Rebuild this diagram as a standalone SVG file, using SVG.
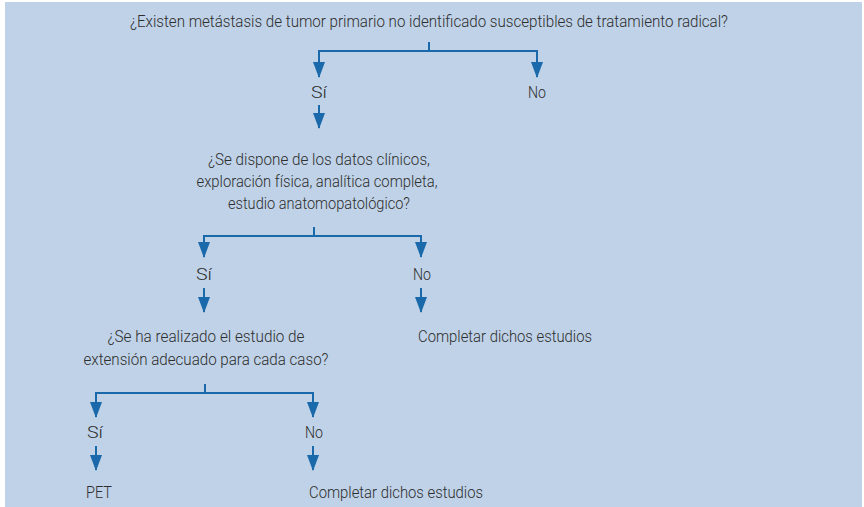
<svg xmlns="http://www.w3.org/2000/svg" width="864" height="507" viewBox="0 0 864 507">
<defs>
<style>
.t{font-family:Roboto,"Liberation Sans",sans-serif;font-size:17px;font-weight:300;fill:#2e2e2e;}
.c{text-anchor:middle;}
.ln{stroke:#1a69aa;stroke-width:2;fill:none;}
</style>
<marker id="ah" markerWidth="16" markerHeight="12" refX="15" refY="6" orient="auto" markerUnits="userSpaceOnUse" viewBox="0 0 16 12">
<path d="M0,0 L16,6 L0,12 Z" fill="#1a69aa"/>
</marker>
</defs>
<rect x="0" y="0" width="864" height="507" fill="#ffffff"/>
<rect x="5" y="2" width="857" height="505" fill="#bfd2e7"/>
<g id="connectors">
<path class="ln" d="M429,42 V51 M318,51 H538"/>
<path class="ln" d="M319,51 V77" marker-end="url(#ah)"/>
<path class="ln" d="M537,51 V77" marker-end="url(#ah)"/>
<path class="ln" d="M319,105 V128" marker-end="url(#ah)"/>
<path class="ln" d="M314,227 V236 M203,236 H422"/>
<path class="ln" d="M204,236 V257" marker-end="url(#ah)"/>
<path class="ln" d="M421,236 V257" marker-end="url(#ah)"/>
<path class="ln" d="M204,288 V312" marker-end="url(#ah)"/>
<path class="ln" d="M421,288 V312" marker-end="url(#ah)"/>
<path class="ln" d="M205,384 V393 M95,393 H314"/>
<path class="ln" d="M96,393 V417" marker-end="url(#ah)"/>
<path class="ln" d="M313,393 V417" marker-end="url(#ah)"/>
<path class="ln" d="M96,446 V470" marker-end="url(#ah)"/>
<path class="ln" d="M313,446 V470" marker-end="url(#ah)"/>
</g>
<g id="q1"><text class="t c" x="429" y="27" textLength="598" lengthAdjust="spacingAndGlyphs">¿Existen metástasis de tumor primario no identificado susceptibles de tratamiento radical?</text></g>
<g id="si1"><text class="t c" x="319" y="98" textLength="16" lengthAdjust="spacingAndGlyphs">Sí</text></g>
<g id="no1"><text class="t c" x="537" y="98" textLength="18" lengthAdjust="spacingAndGlyphs">No</text></g>
<g id="q2">
<text class="t c" x="319" y="165" textLength="222" lengthAdjust="spacingAndGlyphs">¿Se dispone de los datos clínicos,</text>
<text class="t c" x="317" y="187" textLength="241" lengthAdjust="spacingAndGlyphs">exploración física, analítica completa,</text>
<text class="t c" x="319" y="209" textLength="182" lengthAdjust="spacingAndGlyphs">estudio anatomopatológico?</text>
</g>
<g id="si2"><text class="t c" x="204" y="280" textLength="16" lengthAdjust="spacingAndGlyphs">Sí</text></g>
<g id="no2"><text class="t c" x="422" y="280" textLength="18" lengthAdjust="spacingAndGlyphs">No</text></g>
<g id="q3">
<text class="t c" x="206" y="342" textLength="197" lengthAdjust="spacingAndGlyphs">¿Se ha realizado el estudio de</text>
<text class="t c" x="206" y="365" textLength="245" lengthAdjust="spacingAndGlyphs">extensión adecuado para cada caso?</text>
</g>
<g id="comp1"><text class="t" x="418" y="342" textLength="174" lengthAdjust="spacingAndGlyphs">Completar dichos estudios</text></g>
<g id="si3"><text class="t c" x="95" y="438" textLength="16" lengthAdjust="spacingAndGlyphs">Sí</text></g>
<g id="no3"><text class="t c" x="314" y="438" textLength="18" lengthAdjust="spacingAndGlyphs">No</text></g>
<g id="pet"><text class="t" x="86" y="498" textLength="26" lengthAdjust="spacingAndGlyphs">PET</text></g>
<g id="comp2"><text class="t" x="309" y="498" textLength="174" lengthAdjust="spacingAndGlyphs">Completar dichos estudios</text></g>
</svg>
